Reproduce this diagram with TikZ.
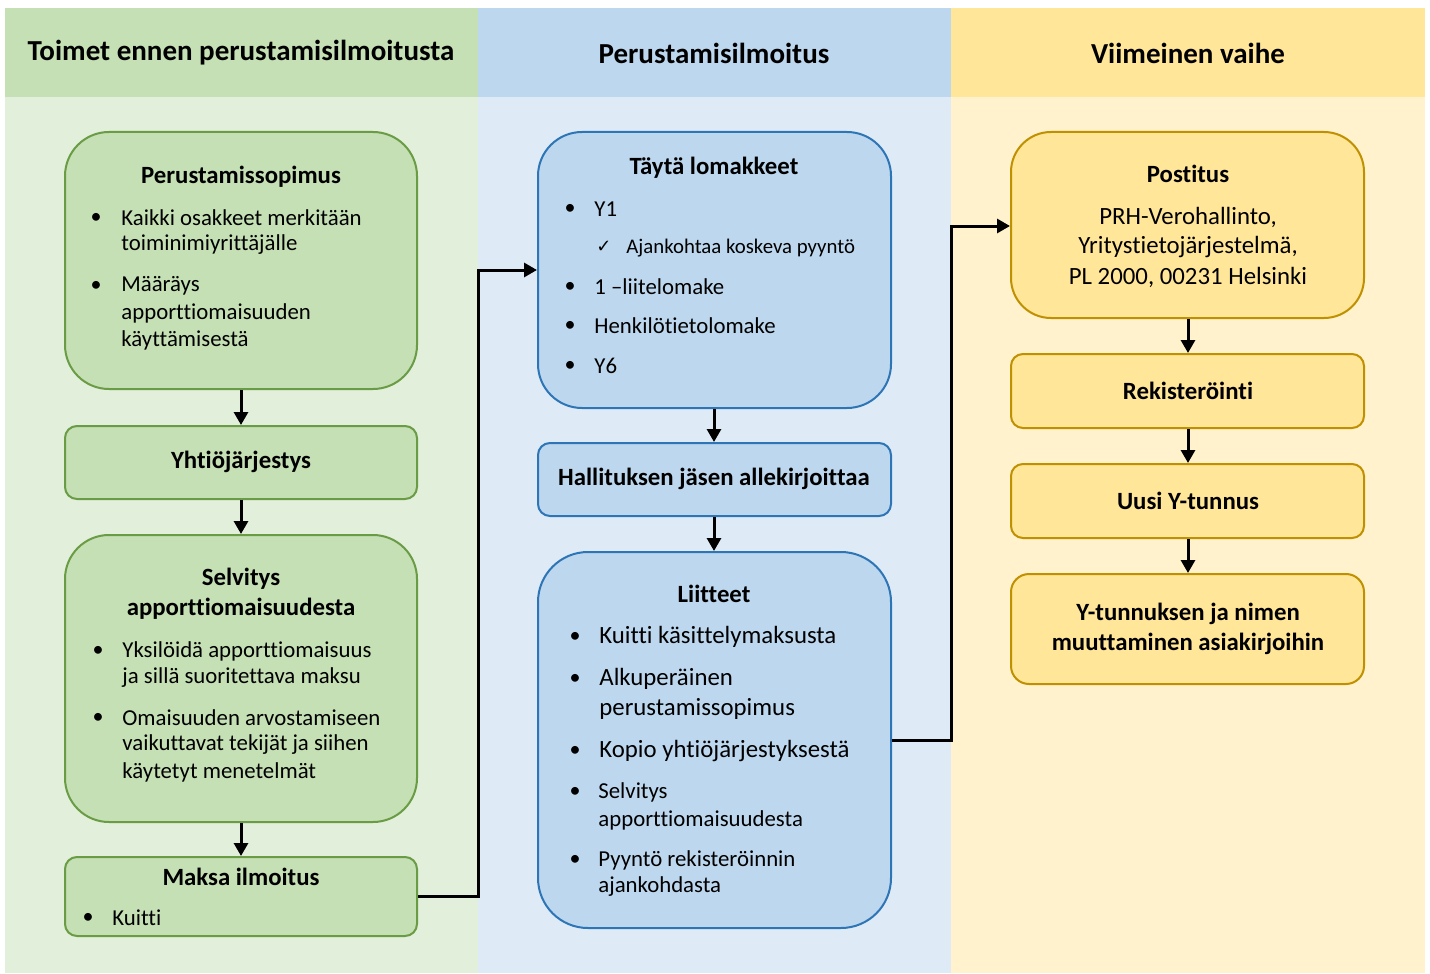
\documentclass[tikz,border=0pt]{standalone}
\usepackage{fontspec}
\setmainfont{Carlito}[Ligatures=NoCommon]
\newfontfamily\symfont{DejaVu Sans}
\usetikzlibrary{arrows.meta,positioning,calc}

\definecolor{grhead}{HTML}{C5E0B4}
\definecolor{grbody}{HTML}{E2EFDA}
\definecolor{grline}{HTML}{6A9C45}
\definecolor{blhead}{HTML}{BDD7EE}
\definecolor{blbody}{HTML}{DEEBF7}
\definecolor{blline}{HTML}{2E75B6}
\definecolor{yehead}{HTML}{FFE699}
\definecolor{yebody}{HTML}{FFF2CC}
\definecolor{yeline}{HTML}{BF9000}

\tikzset{
  hdr/.style={font=\fontsize{14.5}{17}\selectfont\bfseries, inner sep=0pt},
  ttl/.style={font=\fontsize{12.4}{15}\selectfont\bfseries, inner sep=0pt},
  txt/.style={font=\fontsize{11.4}{14}\selectfont, anchor=west, inner sep=0pt},
  bigtxt/.style={txt, font=\fontsize{12.4}{15}\selectfont},
  bul/.style={font=\fontsize{11}{13}\selectfont, inner sep=0pt},
  adr/.style={font=\fontsize{12.4}{15}\selectfont, inner sep=0pt},
  box/.style={draw, line width=1pt, inner sep=0pt},
  grbox/.style={box, fill=grhead, draw=grline},
  blbox/.style={box, fill=blhead, draw=blline},
  yebox/.style={box, fill=yehead, draw=yeline},
  arr/.style={line width=1.5pt, -{Triangle[length=6.5pt,width=7pt]}},
}

\begin{document}
\begin{tikzpicture}[x=0.5pt,y=-0.5pt]
  \useasboundingbox (0,0) rectangle (1430,974);

  % columns
  \fill[grbody] (5,97) rectangle (478,973);
  \fill[blbody] (478,97) rectangle (951,973);
  \fill[yebody] (951,97) rectangle (1425,973);
  \fill[grhead] (5,8) rectangle (478,97);
  \fill[blhead] (478,8) rectangle (951,97);
  \fill[yehead] (951,8) rectangle (1425,97);

  \node (h1) [hdr] at (241,53) {Toimet ennen perustamisilmoitusta};
  \node (h2) [hdr] at (714,53) {Perustamisilmoitus};
  \node (h3) [hdr] at (1188,53) {Viimeinen vaihe};

  % left column
  \node (perus) [grbox, rounded corners=22pt, minimum width=176pt, minimum height=128.5pt] at (241,260.5) {};
  \node (yhtio) [grbox, rounded corners=6pt, minimum width=176pt, minimum height=36.5pt] at (241,462.5) {};
  \node (selv) [grbox, rounded corners=22pt, minimum width=176pt, minimum height=143.5pt] at (241,678.5) {};
  \node (maksa) [grbox, rounded corners=6pt, minimum width=176pt, minimum height=39.5pt] at (241,896.5) {};

  \node (perust) [ttl] at (241,177) {Perustamissopimus};
  \node (pb1) [bul] at (96,218) {\textbullet};
  \node (pt1) [txt] at (121,218) {Kaikki osakkeet merkitään};
  \node (pt2) [txt] at (121,245) {toiminimiyrittäjälle};
  \node (pb2) [bul] at (96,286) {\textbullet};
  \node (pt3) [txt] at (121,286) {Määräys};
  \node (pt4) [txt] at (121,313) {apporttiomaisuuden};
  \node (pt5) [txt] at (121,340) {käyttämisestä};

  \node (yhtiot) [ttl] at (241,462) {Yhtiöjärjestys};

  \node (selvt1) [ttl] at (241,579) {Selvitys};
  \node (selvt2) [ttl] at (241,609) {apporttiomaisuudesta};
  \node (sb1) [bul] at (98,651) {\textbullet};
  \node (st1) [txt] at (122,651) {Yksilöidä apporttiomaisuus};
  \node (st2) [txt] at (122,678) {ja sillä suoritettava maksu};
  \node (sb2) [bul] at (98,718) {\textbullet};
  \node (st3) [txt] at (122,718) {Omaisuuden arvostamiseen};
  \node (st4) [txt] at (122,745) {vaikuttavat tekijät ja siihen};
  \node (st5) [txt] at (122,772) {käytetyt menetelmät};

  \node (maksat) [ttl] at (241,877) {Maksa ilmoitus};
  \node (mb1) [bul] at (88,918) {\textbullet};
  \node (mt1) [txt] at (112,918) {Kuitti};

  % middle column
  \node (tayta) [blbox, rounded corners=22pt, minimum width=176.5pt, minimum height=138pt] at (714.5,270) {};
  \node (hall) [blbox, rounded corners=6pt, minimum width=176.5pt, minimum height=36.5pt] at (714.5,479.5) {};
  \node (liit) [blbox, rounded corners=25pt, minimum width=176.5pt, minimum height=188pt] at (714.5,740) {};

  \node (taytat) [ttl] at (714,168) {Täytä lomakkeet};
  \node (tb1) [bul] at (570,209) {\textbullet};
  \node (tt1) [txt] at (594,209) {Y1};
  \node (tc1) [bul] at (604,247) {\symfont\fontsize{9}{10}\selectfont ✓};
  \node (tt2) [txt, font=\fontsize{10.4}{12}\selectfont] at (626,248) {Ajankohtaa koskeva pyyntö};
  \node (tb2) [bul] at (570,287) {\textbullet};
  \node (tt3) [txt] at (594,287) {1 --liitelomake};
  \node (tb3) [bul] at (570,326) {\textbullet};
  \node (tt4) [txt] at (594,326) {Henkilötietolomake};
  \node (tb4) [bul] at (570,366) {\textbullet};
  \node (tt5) [txt] at (594,366) {Y6};

  \node (hallt) [ttl] at (714,479) {Hallituksen jäsen allekirjoittaa};

  \node (liitt) [ttl] at (714,594) {Liitteet};
  \node (lb1) [bul] at (575,637) {\textbullet};
  \node (lt1) [bigtxt] at (599,637) {Kuitti käsittelymaksusta};
  \node (lb2) [bul] at (575,679) {\textbullet};
  \node (lt2) [bigtxt] at (599,679) {Alkuperäinen};
  \node (lt3) [bigtxt] at (599,709) {perustamissopimus};
  \node (lb3) [bul] at (575,751) {\textbullet};
  \node (lt4) [bigtxt] at (599,751) {Kopio yhtiöjärjestyksestä};
  \node (lb4) [bul] at (575,792) {\textbullet};
  \node (lt5) [txt] at (598,792) {Selvitys};
  \node (lt6) [txt] at (598,820) {apporttiomaisuudesta};
  \node (lb5) [bul] at (575,860) {\textbullet};
  \node (lt7) [txt] at (598,860) {Pyyntö rekisteröinnin};
  \node (lt8) [txt] at (598,887) {ajankohdasta};

  % right column
  \node (post) [yebox, rounded corners=20pt, minimum width=176.5pt, minimum height=93pt] at (1187.5,225) {};
  \node (rek) [yebox, rounded corners=6pt, minimum width=176.5pt, minimum height=37pt] at (1187.5,391) {};
  \node (uusi) [yebox, rounded corners=6pt, minimum width=176.5pt, minimum height=37pt] at (1187.5,501) {};
  \node (ytun) [yebox, rounded corners=9pt, minimum width=176.5pt, minimum height=55pt] at (1187.5,629) {};

  \node (postt) [ttl] at (1188,174) {Postitus};
  \node (pa1) [adr] at (1188,217) {PRH-Verohallinto,};
  \node (pa2) [adr] at (1188,247) {Yritystietojärjestelmä,};
  \node (pa3) [adr] at (1188,277) {PL 2000, 00231 Helsinki};
  \node (rekt) [ttl] at (1188,391) {Rekisteröinti};
  \node (uusit) [ttl] at (1188,501) {Uusi Y-tunnus};
  \node (ytunt1) [ttl] at (1188,614) {Y-tunnuksen ja nimen};
  \node (ytunt2) [ttl] at (1188,644) {muuttaminen asiakirjoihin};

  % arrows
  \draw[arr] (perus.south) -- (yhtio.north);
  \draw[arr] (yhtio.south) -- (selv.north);
  \draw[arr] (selv.south) -- (maksa.north);
  \draw[arr] (tayta.south -| hallt) -- (hall.north -| hallt);
  \draw[arr] (hall.south -| hallt) -- (liit.north -| hallt);
  \draw[arr] (post.south -| postt) -- (rek.north -| postt);
  \draw[arr] (rek.south -| postt) -- (uusi.north -| postt);
  \draw[arr] (uusi.south -| postt) -- (ytun.north -| postt);

  \coordinate (m2) at (478,270);
  \draw[arr] (maksa.east) -| (m2) -- (tayta.west);
  \coordinate (l2) at (951,226);
  \draw[arr] (liit.east) -| (l2) -- (post.west |- l2);
\end{tikzpicture}
\end{document}
